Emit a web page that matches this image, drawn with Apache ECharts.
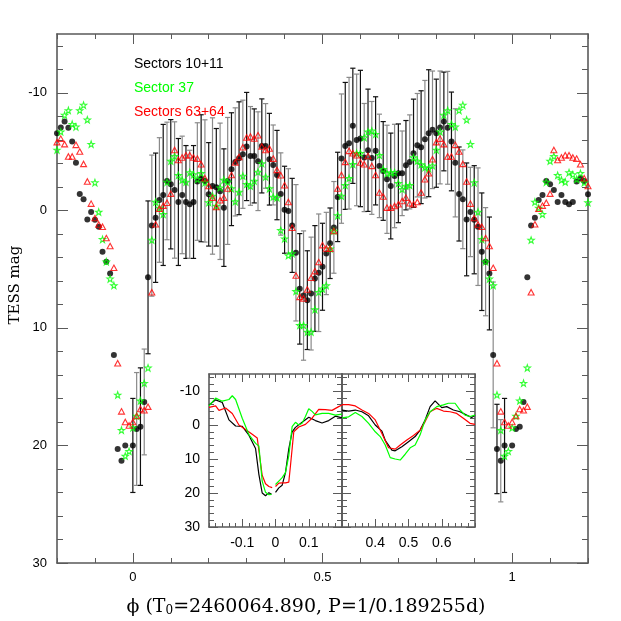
<!DOCTYPE html>
<html><head><meta charset="utf-8">
<script src="https://cdn.jsdelivr.net/npm/echarts@6/dist/echarts.min.js"></script>
<style>html,body{margin:0;padding:0;background:#fff}#c{width:621px;height:621px}</style>
</head><body><div id="c"></div>
<script>
// ---- DATA ----
const phases = [0.00,0.01,0.02,0.03,0.04,0.05,0.06,0.07,0.08,0.09,
0.10,0.11,0.12,0.13,0.14,0.15,0.16,0.17,0.18,0.19,
0.20,0.21,0.22,0.23,0.24,0.25,0.26,0.27,0.28,0.29,
0.30,0.31,0.32,0.33,0.34,0.35,0.36,0.37,0.38,0.39,
0.40,0.41,0.42,0.43,0.44,0.45,0.46,0.47,0.48,0.49,
0.50,0.51,0.52,0.53,0.54,0.55,0.56,0.57,0.58,0.59,
0.60,0.61,0.62,0.63,0.64,0.65,0.66,0.67,0.68,0.69,
0.70,0.71,0.72,0.73,0.74,0.75,0.76,0.77,0.78,0.79,
0.80,0.81,0.82,0.83,0.84,0.85,0.86,0.87,0.88,0.89,
0.90,0.91,0.92,0.93,0.94,0.95,0.96,0.97,0.98,0.99];

const magS1011 = [20.0,18.6,18.4,16.3,5.7,1.3,0.63,-0.88,-1.31,-2.50,
-2.22,-1.73,-0.71,-1.31,-0.71,-0.51,-0.71,-2.45,-2.73,-2.50,
-1.36,-2.07,-1.96,-1.62,-0.23,-2.5,-3.5,-4.12,-4.43,-4.77,
-5.43,-4.63,-4.63,-4.18,-5.48,-5.48,-4.35,-3.86,-3.0,-1.39,
-0.05,0.06,1.28,3.61,6.68,7.25,7.64,7.08,5.80,5.31,
4.80,3.67,2.8,1.45,-1.14,-4.40,-5.48,-5.71,-7.19,-5.99,
-6.11,-4.49,-5.11,-4.46,-5.06,-3.78,-3.35,-2.64,-2.07,-2.92,
-3.15,-3.15,-3.84,-4.12,-4.86,-5.54,-5.37,-6.05,-6.56,-6.85,
-6.56,-7.05,-7.56,-7.02,-5.86,-4.04,-1.39,-0.94,0.77,0.14,
0.8,1.39,3.52,4.37,5.37,12.3,20.3,21.3,20.0,null];

const errS1011 = [4.0,4.8,5.0,4.5,6.5,6.0,5.5,5.3,6.0,5.0,
5.5,5.8,5.4,5.0,4.8,4.6,4.8,5.0,5.4,5.2,
4.4,5.8,5.0,5.8,5.0,5.4,4.8,4.6,4.8,4.6,
4.6,4.2,4.0,4.2,4.0,3.6,3.9,3.4,3.8,3.5,
3.7,3.6,4.0,5.8,4.7,5.5,4.2,4.8,4.5,5.0,
3.7,3.5,3.0,3.9,3.8,5.5,5.4,5.6,4.9,5.6,
5.8,4.6,5.2,4.8,4.6,4.4,4.2,4.6,4.5,4.4,
4.2,3.6,3.8,4.0,4.6,4.4,4.8,5.0,5.4,5.0,
4.6,4.8,4.2,4.8,4.2,4.6,4.0,4.2,4.8,3.8,
4.6,5.0,5.0,4.6,4.8,6.2,3.8,3.5,4.0,null];

const magS37 = [18.5,17.5,16.2,14.7,13.4,2.53,-0.71,-0.2,0.34,-2.4,
-4.2,-4.6,-2.98,-2.58,-2.41,-3.21,-3.04,-2.64,-3.15,-2.36,
-0.66,-1.22,-0.37,-1.93,-2.58,-2.4,-1.85,-0.74,-1.56,-2.92,
-2.22,-2.07,-2.5,-3.26,-3.98,-2.84,-1.85,-1.14,-1.08,1.7,
2.41,3.84,3.67,6.88,9.78,9.78,10.35,10.35,8.44,6.96,
6.68,6.39,3.27,1.76,0.45,-1.22,-2.13,-2.73,-3.92,-4.86,
-4.86,-6.19,-6.68,-6.76,-6.48,-4.69,-3.5,-3.13,-3.21,-3.21,
-2.30,-1.79,-2.07,-2.13,-4.49,-4.2,-3.9,-3.64,-3.55,-3.8,
-5.14,-6.68,-8.1,-8.5,-7.33,-7.1,-8.5,-8.95,-7.7,-5.63,
-2.36,0.14,2.47,4.37,5.83,6.39,15.7,18.7,20.9,20.5];

const magS6364 = [18.0,17.5,16.9,17.0,16.7,6.96,1.19,-0.14,-0.4,-0.65,
-1.42,-5.14,-4.29,-4.5,-4.69,-4.69,-4.49,-4.4,-3.92,-2.73,
-2.07,-1.08,-0.28,-0.85,-1.08,-1.85,-3.0,-4.07,-4.54,-5.37,
-6.2,-6.28,-6.11,-6.39,-5.43,-5.14,-5.26,-4.4,-3.44,-2.98,
-2.13,-0.71,1.48,5.54,7.36,7.5,6.73,5.74,5.17,4.4,
2.96,3.24,3.27,1.76,-1.85,-3.01,-4.12,-5.06,-4.86,-4.69,
-4.07,-3.92,-4.63,-3.78,-3.01,-1.51,-1.17,-0.23,-0.23,-0.37,
-0.51,-0.79,-1.08,-0.6,-0.51,-0.71,-1.51,-2.64,-3.15,-4.35,
-5.8,-6.1,-5.63,-4.58,-4.58,-5.57,-5.0,-3.95,-2.45,-0.57,
0.66,1.2,1.39,2.36,3.04,4.89,13.0,17.1,18.0,18.3];

// inset (smoothed curves) - left panel, gap at phase 0
const insBlackLPh = [-0.20,-0.18,-0.16,-0.14,-0.12,-0.10,-0.08,-0.06,-0.05,-0.04,-0.03,-0.02,-0.012,null,0.0,0.01,0.02,0.03,0.04,0.05,0.06,0.08,0.10,0.12,0.14,0.16,0.18,0.20];
const insBlackL   = [-5.9,-7.4,-6.6,-1.5,0.3,0.4,3.0,6.9,14.5,20.0,20.8,19.9,20.4,null,19.8,18.5,17.7,14.0,7.0,2.0,0.7,-0.8,-2.3,-1.3,-0.6,-1.3,-2.6,-2.1];
const insGreenLPh = [-0.20,-0.18,-0.16,-0.14,-0.13,-0.12,-0.10,-0.08,-0.06,-0.05,-0.04,-0.03,-0.02,-0.012,null,0.0,0.01,0.02,0.03,0.04,0.05,0.06,0.07,0.08,0.09,0.10,0.11,0.12,0.14,0.16,0.18,0.20];
const insGreenL   = [-5.6,-7.9,-7.0,-7.5,-8.6,-7.5,-2.0,2.8,5.4,6.2,16.5,19.8,20.5,20.4,null,17.5,16.5,15.5,14.0,9.0,0.5,-0.8,0.0,-0.5,-2.5,-4.8,-4.0,-3.0,-3.4,-3.4,-2.9,-3.2];
const insRedLPh   = [-0.20,-0.18,-0.17,-0.15,-0.13,-0.11,-0.09,-0.07,-0.055,-0.05,-0.04,-0.03,-0.02,-0.01,null,0.0,0.01,0.02,0.03,0.04,0.045,0.055,0.07,0.09,0.11,0.13,0.15,0.17,0.19,0.20];
const insRedL     = [-5.2,-5.6,-4.3,-5.0,-3.4,0.0,1.3,2.7,3.8,7.5,14.8,17.3,18.1,18.4,null,18.1,17.1,17.0,17.0,16.8,12.0,2.0,0.6,-0.2,-2.0,-4.6,-4.5,-4.3,-5.4,-5.9];
// inset - right panel
const insBlackRPh = [0.30,0.32,0.34,0.36,0.38,0.40,0.42,0.43,0.45,0.46,0.48,0.50,0.52,0.535,0.55,0.565,0.58,0.60,0.615,0.635,0.655,0.675,0.69,0.70];
const insBlackR   = [-4.4,-4.1,-4.4,-3.9,-2.7,0.0,1.8,4.5,7.4,7.6,6.4,4.9,3.4,1.5,-1.5,-5.4,-7.1,-5.1,-5.4,-4.4,-3.9,-2.9,-2.2,-2.9];
const insGreenRPh = [0.30,0.32,0.34,0.36,0.38,0.40,0.415,0.43,0.445,0.46,0.475,0.49,0.505,0.52,0.535,0.55,0.565,0.585,0.605,0.62,0.64,0.655,0.67,0.685,0.70];
const insGreenR   = [-2.1,-2.4,-3.7,-2.5,-0.5,2.0,3.4,5.9,9.6,10.0,10.3,8.6,6.7,5.9,2.9,-1.5,-3.9,-5.4,-5.9,-6.4,-6.4,-4.4,-2.9,-2.5,-2.9];
const insRedRPh   = [0.30,0.32,0.34,0.36,0.38,0.40,0.42,0.44,0.46,0.475,0.495,0.515,0.535,0.55,0.565,0.585,0.605,0.625,0.645,0.665,0.685,0.70];
const insRedR     = [-6.0,-6.0,-5.6,-4.4,-3.4,-1.5,2.5,6.7,7.1,5.9,4.4,3.1,1.5,-1.0,-3.9,-4.9,-4.1,-3.9,-3.4,-2.0,-0.5,-0.2];

// tick labels
const mainXLabels = [0, 0.5, 1];
const mainYLabels = [-10, 0, 10, 20, 30];
const insLXLabels = [-0.1, 0, 0.1];
const insRXLabels = [0.4, 0.5, 0.6];
const insYLabels  = [-10, 0, 10, 20, 30];
const legendNames = ['Sectors 10+11', 'Sector 37', 'Sectors 63+64'];

// ---- BUILD ----
const GREEN = '#00ff00', RED = '#ff0000', AX = '#5a5a5a';
function seq(a, b, s){ const r=[]; const n=Math.round((b-a)/s); for(let i=0;i<=n;i++) r.push(+(a+i*s).toFixed(4)); return r; }
const fmt = v => String(parseFloat((+v).toFixed(3)));

function folded(mags){
  const pts=[];
  phases.forEach((p,i)=>{
    const m=mags[i]; if(m==null) return;
    pts.push([p,m]);
    if(p>=0.795) pts.push([+(p-1).toFixed(3),m]);
    if(p<=0.205) pts.push([+(p+1).toFixed(3),m]);
  });
  return pts;
}
function pairs(ph, v){ return ph.map((p,i)=> p==null ? [null,null] : [p, v[i]]); }

function axis(o){
  const a = {
    type:'value', gridIndex:o.grid, min:o.min, max:o.max, position:o.pos,
    inverse:!!o.inverse, z:o.z||0, silent:true,
    splitLine:{show:false},
    axisLine:{show:!!o.line, onZero:false, lineStyle:{color:AX, width:o.lw||1.6}},
    axisTick:{show:true, inside:true, length:o.len, customValues:o.ticks, lineStyle:{color:AX, width:1}},
    axisLabel:{show:false}
  };
  if(o.labels){
    a.axisLabel = {show:true, customValues:o.labels, margin:o.margin, fontSize:o.fs,
      color:'#000', fontFamily:'Liberation Sans', formatter:fmt};
  }
  return a;
}
function axesFor(grid, xmin, xmax, xStep, xMajor, xLabels, yLabelsShown, fs, z, majLen, minLen){
  const xs=[], ys=[];
  const xMinor = seq(xmin, xmax, xStep);
  const yMinor = seq(-14, 30, 2);
  const yMajor = [-10,0,10,20,30];
  xs.push(axis({grid, min:xmin, max:xmax, pos:'bottom', line:true, ticks:xMinor, len:minLen, labels:xLabels, margin:fs===13?8:9, fs, z}));
  xs.push(axis({grid, min:xmin, max:xmax, pos:'bottom', ticks:xMajor, len:majLen, z}));
  xs.push(axis({grid, min:xmin, max:xmax, pos:'top', line:true, ticks:xMinor, len:minLen, z}));
  xs.push(axis({grid, min:xmin, max:xmax, pos:'top', ticks:xMajor, len:majLen, z}));
  ys.push(axis({grid, min:-15, max:30, inverse:true, pos:'left', line:true, ticks:yMinor, len:minLen+1, labels:yLabelsShown, margin:fs===13?10:9, fs, z}));
  ys.push(axis({grid, min:-15, max:30, inverse:true, pos:'left', ticks:yMajor, len:majLen+1, z}));
  ys.push(axis({grid, min:-15, max:30, inverse:true, pos:'right', line:true, ticks:yMinor, len:minLen+1, z}));
  ys.push(axis({grid, min:-15, max:30, inverse:true, pos:'right', ticks:yMajor, len:majLen+1, z}));
  return {xs, ys};
}

const A0 = axesFor(0, -0.2, 1.2, 0.1, [0,0.5,1], mainXLabels, mainYLabels, 13, 1, 10, 5);
const A1 = axesFor(1, -0.2, 0.2, 0.02, [-0.1,0,0.1], insLXLabels, insYLabels, 14, 12, 8, 4);
const A2 = axesFor(2, 0.3, 0.7, 0.02, [0.4,0.5,0.6], insRXLabels, null, 14, 12, 8, 4);

const errData = [];
phases.forEach((p,i)=>{ if(errS1011[i]!=null && magS1011[i]!=null) errData.push([p, magS1011[i]-errS1011[i], magS1011[i]+errS1011[i]]); });

const starPath = 'path://M0,-10L2.35,-3.24L9.51,-3.09L3.8,1.24L5.88,8.09L0,4L-5.88,8.09L-3.8,1.24L-9.51,-3.09L-2.35,-3.24Z';

const series = [
  { type:'custom', xAxisIndex:0, yAxisIndex:0, z:2, silent:true, clip:true,
    encode:{x:0, y:[1,2]}, data:errData,
    renderItem:(params, api)=>{
      const x=api.value(0), lo=api.value(1), hi=api.value(2);
      const p1=api.coord([x,lo]), p2=api.coord([x,hi]);
      const c = params.dataIndex%2 ? '#8a8a8a' : '#111';
      const cap=2.6, st={stroke:c, lineWidth:1.2};
      return {type:'group', children:[
        {type:'line', shape:{x1:p1[0],y1:p1[1],x2:p2[0],y2:p2[1]}, style:st},
        {type:'line', shape:{x1:p1[0]-cap,y1:p1[1],x2:p1[0]+cap,y2:p1[1]}, style:st},
        {type:'line', shape:{x1:p2[0]-cap,y1:p2[1],x2:p2[0]+cap,y2:p2[1]}, style:st}
      ]};
    }
  },
  { name:legendNames[0], type:'scatter', xAxisIndex:0, yAxisIndex:0, z:3, silent:true,
    symbol:'circle', symbolSize:6, itemStyle:{color:'#000'}, data:folded(magS1011) },
  { name:legendNames[1], type:'scatter', xAxisIndex:0, yAxisIndex:0, z:3, silent:true,
    symbol:starPath, symbolSize:6.3, itemStyle:{color:'rgba(0,0,0,0)', borderColor:GREEN, borderWidth:1.1}, data:folded(magS37) },
  { name:legendNames[2], type:'scatter', xAxisIndex:0, yAxisIndex:0, z:3, silent:true,
    symbol:'triangle', symbolSize:[6,5.5], itemStyle:{color:'rgba(0,0,0,0)', borderColor:RED, borderWidth:1.1}, data:folded(magS6364) }
];
function insLine(xi, ph, v, color){
  return {type:'line', xAxisIndex:xi, yAxisIndex:xi, z:14, silent:true, symbol:'none', connectNulls:false,
    lineStyle:{color, width:1.2}, data:pairs(ph, v), animation:false};
}
series.push(insLine(4, insBlackLPh, insBlackL, '#000'));
series.push(insLine(4, insRedLPh, insRedL, RED));
series.push(insLine(4, insGreenLPh, insGreenL, GREEN));
series.push(insLine(8, insBlackRPh, insBlackR, '#000'));
series.push(insLine(8, insRedRPh, insRedR, RED));
series.push(insLine(8, insGreenRPh, insGreenR, GREEN));

const option = {
  animation:false,
  backgroundColor:'#fff',
  grid:[
    {left:57, top:34, width:531, height:529, z:0},
    {left:209, top:374, width:133, height:153, show:true, backgroundColor:'#fff', borderWidth:0, z:10},
    {left:342, top:374, width:133, height:153, show:true, backgroundColor:'#fff', borderWidth:0, z:10}
  ],
  xAxis:[...A0.xs, ...A1.xs, ...A2.xs],
  yAxis:[...A0.ys, ...A1.ys, ...A2.ys],
  series,
  graphic:[
    {type:'text', x:134, y:64, z:30, style:{text:legendNames[0], fill:'#000', font:'14px "Liberation Sans"', textVerticalAlign:'middle'}},
    {type:'text', x:134, y:88, z:30, style:{text:legendNames[1], fill:GREEN, font:'14px "Liberation Sans"', textVerticalAlign:'middle'}},
    {type:'text', x:134, y:112, z:30, style:{text:legendNames[2], fill:RED, font:'14px "Liberation Sans"', textVerticalAlign:'middle'}},
    {type:'text', x:306, y:607, z:30, style:{
      text:'ϕ (T{s|0}=2460064.890, P=1/0.189255d)', fill:'#000',
      fontFamily:'DejaVu Serif', fontSize:19, align:'center', verticalAlign:'middle',
      rich:{s:{fontFamily:'DejaVu Serif', fontSize:12, verticalAlign:'bottom', lineHeight:14, padding:[10,0,0,0]}}
    }},
    {type:'text', x:15, y:285, rotation:Math.PI/2, z:30, style:{text:'TESS mag', fill:'#000',
      fontFamily:'DejaVu Serif', fontSize:15, align:'center', verticalAlign:'middle'}}
  ]
};
const chart = echarts.init(document.getElementById('c'), null, {renderer:'canvas'});
chart.setOption(option);
</script></body></html>
